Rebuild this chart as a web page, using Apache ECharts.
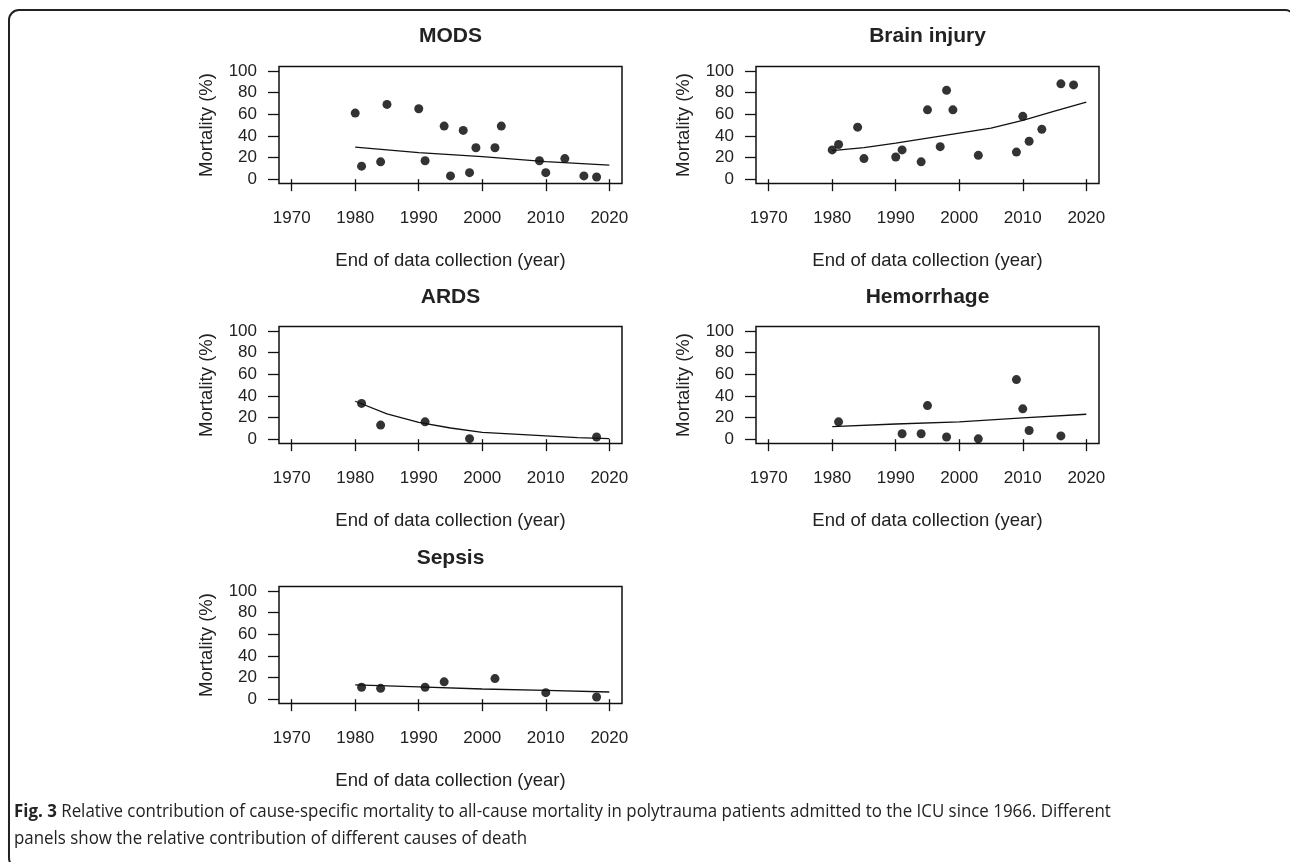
<!DOCTYPE html>
<html>
<head>
<meta charset="utf-8">
<script src="https://cdn.jsdelivr.net/npm/echarts@6/dist/echarts.min.js"></script>
<style>
  html, body { margin: 0; padding: 0; background: #fff; }
  #main { width: 1290px; height: 862px; }
</style>
</head>
<body>
<div id="main"></div>
<script>
// tick labels
var xTicks = [1970, 1980, 1990, 2000, 2010, 2020];
var yTicks = [0, 20, 40, 60, 80, 100];

// MODS
var modsYears = [1980, 1981, 1984, 1985, 1990, 1991, 1994, 1995, 1997, 1998, 1999, 2002, 2003, 2009, 2010, 2013, 2016, 2018];
var modsValues = [61, 12, 16, 69, 65, 17, 49, 3, 45, 6, 29, 29, 49, 17, 6, 19, 3, 2];
var modsTrendYears = [1980, 1990, 2000, 2010, 2020];
var modsTrend = [29.5, 24.5, 20.8, 16.1, 13];

// Brain injury
var brainYears = [1980, 1981, 1984, 1985, 1990, 1991, 1994, 1995, 1997, 1998, 1999, 2003, 2009, 2010, 2011, 2013, 2016, 2018];
var brainValues = [27, 32, 48, 19, 20.5, 27, 16, 64, 30, 82, 64, 22, 25, 58, 35, 46, 88, 87];
var brainTrendYears = [1980, 1985, 1990, 1995, 2000, 2005, 2010, 2015, 2020];
var brainTrend = [26.4, 29.2, 33.2, 37.9, 42.5, 47.2, 54.3, 62.7, 71.1];

// ARDS
var ardsYears = [1981, 1984, 1991, 1998, 2018];
var ardsValues = [33, 13, 16, 0.5, 2];
var ardsTrendYears = [1980, 1985, 1990, 1995, 2000, 2005, 2010, 2015, 2020];
var ardsTrend = [35, 23.4, 15.6, 10.3, 6.2, 4.7, 3.1, 1.5, 0.5];

// Hemorrhage
var hemYears = [1981, 1991, 1994, 1995, 1998, 2003, 2009, 2010, 2011, 2016];
var hemValues = [16, 5, 5, 31, 2, 0.3, 55, 28, 8, 3];
var hemTrendYears = [1980, 1990, 2000, 2010, 2020];
var hemTrend = [11.5, 14, 16, 19.7, 23];

// Sepsis
var sepsisYears = [1981, 1984, 1991, 1994, 2002, 2010, 2018];
var sepsisValues = [11, 10, 11, 16, 19, 6, 2];
var sepsisTrendYears = [1980, 1990, 2000, 2010, 2020];
var sepsisTrend = [13.1, 11.3, 9.4, 8.1, 6.6];

var panels = [
  { name: 'MODS', col: 0, row: 0, years: modsYears, vals: modsValues, ty: modsTrendYears, tv: modsTrend },
  { name: 'Brain injury', col: 1, row: 0, years: brainYears, vals: brainValues, ty: brainTrendYears, tv: brainTrend },
  { name: 'ARDS', col: 0, row: 1, years: ardsYears, vals: ardsValues, ty: ardsTrendYears, tv: ardsTrend },
  { name: 'Hemorrhage', col: 1, row: 1, years: hemYears, vals: hemValues, ty: hemTrendYears, tv: hemTrend },
  { name: 'Sepsis', col: 0, row: 2, years: sepsisYears, vals: sepsisValues, ty: sepsisTrendYears, tv: sepsisTrend }
];

var FONT = 'Liberation Sans, Arial, sans-serif';
var INK = '#222';
var colLeft = [279, 756];
var boxW = 343, boxH = 117;

var chart = echarts.init(document.getElementById('main'));

var grid = [], xAxis = [], yAxis = [], series = [], title = [];
panels.forEach(function (p, i) {
  var left = colLeft[p.col];
  var top = 66.5 + p.row * 260;
  grid.push({
    left: left, top: top, width: boxW, height: boxH,
    show: true, borderColor: '#111', borderWidth: 1.5, backgroundColor: 'transparent'
  });
  title.push({
    text: p.name,
    left: left + boxW / 2,
    top: 25.5 + p.row * 261,
    textAlign: 'center',
    padding: 0,
    textStyle: { fontFamily: FONT, fontSize: 21, fontWeight: 'bold', color: INK }
  });
  xAxis.push({
    gridIndex: i, type: 'value', min: 1968, max: 2022,
    name: 'End of data collection (year)', nameLocation: 'middle', nameGap: 68,
    nameTextStyle: { fontFamily: FONT, fontSize: 18.5, color: INK },
    axisLine: { show: false },
    axisTick: { show: true, inside: false, length: 12, customValues: xTicks, lineStyle: { color: '#111', width: 1.3 } },
    axisLabel: {
      customValues: xTicks, margin: 26, fontFamily: FONT, fontSize: 17, color: INK,
      formatter: function (v) { return String(v); }
    },
    splitLine: { show: false }
  });
  yAxis.push({
    gridIndex: i, type: 'value', min: -4, max: 104,
    name: 'Mortality (%)', nameLocation: 'middle', nameGap: 63,
    nameTextStyle: { fontFamily: FONT, fontSize: 18.5, color: INK },
    axisLine: { show: false },
    axisTick: { show: true, inside: false, length: 11, customValues: yTicks, lineStyle: { color: '#111', width: 1.3 } },
    axisLabel: { customValues: yTicks, margin: 22, fontFamily: FONT, fontSize: 17, color: INK },
    splitLine: { show: false }
  });
  series.push({
    type: 'scatter', xAxisIndex: i, yAxisIndex: i,
    symbolSize: 9, itemStyle: { color: '#000' },
    data: p.years.map(function (y, k) { return [y, p.vals[k]]; })
  });
  series.push({
    type: 'line', xAxisIndex: i, yAxisIndex: i,
    showSymbol: false, smooth: false,
    lineStyle: { color: '#111', width: 1.3 },
    data: p.ty.map(function (y, k) { return [y, p.tv[k]]; })
  });
});

var option = {
  backgroundColor: '#fff',
  animation: false,
  title: title,
  grid: grid,
  xAxis: xAxis,
  yAxis: yAxis,
  series: series,
  graphic: [
    {
      type: 'rect', silent: true,
      shape: { x: 9, y: 10, width: 1286, height: 858, r: 10 },
      style: { fill: 'none', stroke: '#222', lineWidth: 2 }
    },
    {
      type: 'text', left: 14, top: 803, scaleX: 0.965,
      style: {
        text: '{b|Fig. 3} Relative contribution of cause-specific mortality to all-cause mortality in polytrauma patients admitted to the ICU since 1966. Different',
        font: '17.5px "Open Sans", sans-serif', fill: '#222',
        rich: { b: { fontWeight: 'bold', fontFamily: 'Open Sans', fontSize: 17.5, fill: '#222' } }
      }
    },
    {
      type: 'text', left: 14, top: 830, scaleX: 0.965,
      style: {
        text: 'panels show the relative contribution of different causes of death',
        font: '17.5px "Open Sans", sans-serif', fill: '#222'
      }
    }
  ]
};
chart.setOption(option);
</script>
</body>
</html>
